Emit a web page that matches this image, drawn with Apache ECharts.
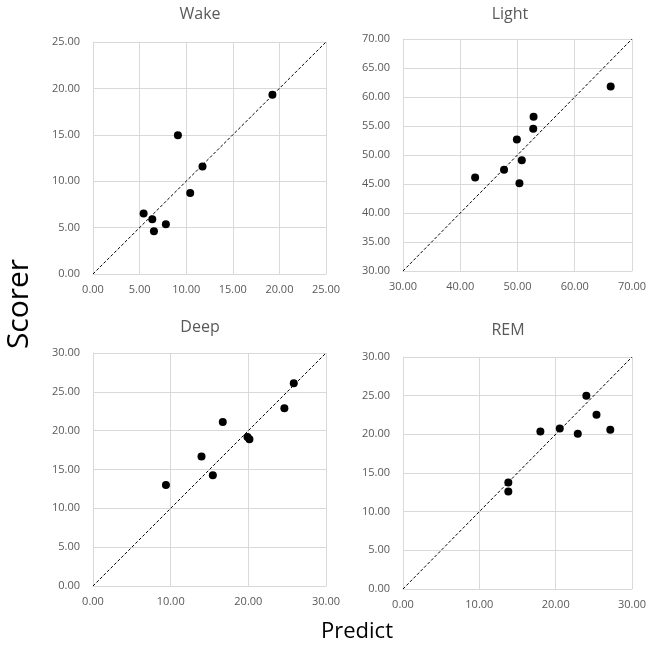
<!DOCTYPE html>
<html><head><meta charset="utf-8">
<script src="https://cdn.jsdelivr.net/npm/echarts@6/dist/echarts.min.js"></script>
<style>html,body{margin:0;padding:0;background:#fff}#c{width:649px;height:648px}</style>
</head><body><div id="c"></div>
<script>
const titles = ['Wake', 'Light', 'Deep', 'REM'];
const wakePredict = [5.43, 6.36, 6.54, 7.82, 9.11, 10.43, 11.75, 19.25];
const wakeScorer  = [6.51, 5.90, 4.60, 5.36, 14.96, 8.74, 11.58, 19.32];
const lightPredict = [42.6, 47.65, 49.89, 50.75, 50.34, 52.75, 52.81, 66.28];
const lightScorer  = [46.1, 47.44, 52.68, 49.11, 45.14, 54.52, 56.59, 61.83];
const deepPredict = [9.39, 13.97, 15.43, 16.71, 19.89, 20.14, 24.64, 25.85];
const deepScorer  = [13.02, 16.67, 14.27, 21.1, 19.17, 18.91, 22.9, 26.09];
const remPredict = [13.8, 13.8, 18.0, 20.54, 22.9, 24.02, 25.35, 27.16];
const remScorer  = [13.77, 12.6, 20.37, 20.76, 20.07, 24.99, 22.53, 20.59];
const axisRanges = [[0, 25, 5, 5], [30, 70, 10, 5], [0, 30, 10, 5], [0, 30, 10, 5]];
const xLabel = 'Predict';
const yLabel = 'Scorer';

const panels = [
  [wakePredict, wakeScorer],
  [lightPredict, lightScorer],
  [deepPredict, deepScorer],
  [remPredict, remScorer]
];
const grids = [
  {left: 93, top: 42, width: 233, height: 232},
  {left: 403, top: 39, width: 233, height: 232},
  {left: 93, top: 353, width: 233, height: 233},
  {left: 403, top: 357, width: 233, height: 232}
];
const titlePos = [[195, 1], [505, 1], [195, 314], [503, 317]];
const font = '"Open Sans", "Noto Sans", sans-serif';
const gridColor = '#d9d9d9';
const labelColor = '#595959';

const option = {
  animation: false,
  backgroundColor: '#fff',
  title: titles.map((t, i) => ({
    text: t, left: titlePos[i][0], top: titlePos[i][1], textAlign: 'center',
    textStyle: {fontSize: 16, fontWeight: 'normal', color: labelColor, fontFamily: font}
  })),
  grid: grids,
  xAxis: axisRanges.map((r, i) => ({
    type: 'value', gridIndex: i, min: r[0], max: r[1], interval: r[2],
    axisLine: {show: true, lineStyle: {color: gridColor}},
    axisTick: {show: false},
    splitLine: {show: true, lineStyle: {color: gridColor}},
    axisLabel: {color: labelColor, fontSize: 11, fontFamily: font, margin: 10, formatter: v => v.toFixed(2)}
  })),
  yAxis: axisRanges.map((r, i) => ({
    type: 'value', gridIndex: i, min: r[0], max: r[1], interval: r[3],
    axisLine: {show: true, lineStyle: {color: gridColor}},
    axisTick: {show: false},
    splitLine: {show: true, lineStyle: {color: gridColor}},
    axisLabel: {color: labelColor, fontSize: 11, fontFamily: font, margin: 13, formatter: v => v.toFixed(2)}
  })),
  graphic: [
    {type: 'text', x: 357, y: 632, style: {text: xLabel, fontSize: 22, fill: '#000', fontFamily: font, align: 'center', verticalAlign: 'middle'}},
    {type: 'text', x: 19, y: 304, rotation: Math.PI / 2, style: {text: yLabel, fontSize: 30, fill: '#000', fontFamily: font, align: 'center', verticalAlign: 'middle'}}
  ],
  series: []
};
panels.forEach((p, i) => {
  const r = axisRanges[i];
  option.series.push({
    type: 'line', xAxisIndex: i, yAxisIndex: i, data: [[r[0], r[0]], [r[1], r[1]]],
    symbol: 'none', silent: true,
    lineStyle: {color: '#000', width: 1, type: [3, 2]}
  });
  option.series.push({
    type: 'scatter', xAxisIndex: i, yAxisIndex: i,
    data: p[0].map((x, k) => [x, p[1][k]]),
    symbolSize: 8, itemStyle: {color: '#000', opacity: 1}
  });
});
echarts.init(document.getElementById('c')).setOption(option);
</script></body></html>
